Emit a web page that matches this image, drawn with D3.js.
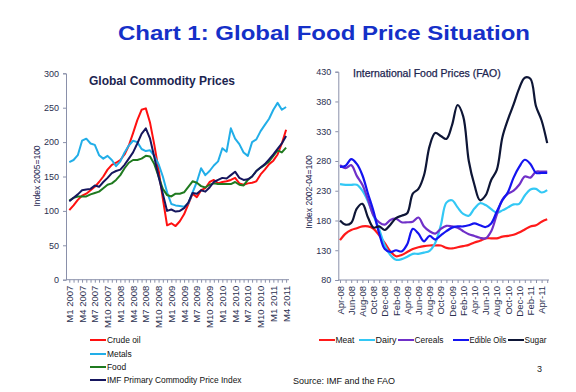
<!DOCTYPE html>
<html><head><meta charset="utf-8">
<script src="https://cdn.jsdelivr.net/npm/d3@7"></script>
<style>body{margin:0;background:#fff}svg{display:block;font-family:"Liberation Sans",Arial,sans-serif}</style>
</head><body><svg id="c" width="576" height="392"></svg>
<script>
// ---- Left chart data (monthly, M1 2007 .. M4 2011) ----
const leftTickLabels = ["M1 2007","M4 2007","M7 2007","M10 2007","M1 2008","M4 2008","M7 2008","M10 2008","M1 2009","M4 2009","M7 2009","M10 2009","M1 2010","M4 2010","M7 2010","M10 2010","M1 2011","M4 2011"];
const crudeOil = [101,108,116,122,125,130,135,142,150,160,167,170,174,182,195,213,232,247,249,228,196,160,118,79,82,78,85,95,110,125,120,130,133,142,145,140,142,143,145,148,140,138,140,141,143,153,160,168,173,182,198,218];
const metals = [171,174,181,202,205,198,196,181,176,180,174,165,172,185,195,202,200,190,187,188,180,168,150,127,110,108,107,106,111,127,142,162,152,158,166,172,191,186,220,205,197,185,180,200,204,216,225,234,247,257,247,251];
const food = [115,119,121,121,121,124,126,128,133,138,140,145,152,162,170,174,174,176,180,179,168,150,132,123,121,125,125,127,135,143,141,136,134,138,140,139,139,139,139,142,138,137,145,150,158,163,167,172,180,188,185,192];
const imfIndex = [114,119,124,130,131,132,137,135,142,148,155,158,160,167,176,185,198,212,220,205,178,150,125,100,102,99,100,104,112,126,125,130,128,134,142,145,148,147,152,157,148,145,146,150,158,163,168,175,182,190,198,209];
const leftSeriesNames = ["Crude oil","Metals","Food","IMF Primary Commodity Price Index"];
const leftYTicks = [0,50,100,150,200,250,300];

// ---- Right chart data (monthly, Apr-08 .. May-11) ----
const rightTickLabels = ["Apr-08","Jun-08","Aug-08","Oct-08","Dec-08","Feb-09","Apr-09","Jun-09","Aug-09","Oct-09","Dec-09","Feb-10","Apr-10","Jun-10","Aug-10","Oct-10","Dec-10","Feb-11","Apr-11"];
const meat = [147,158,164,167,170,170,166,155,142,128,120,122,127,132,135,137,138,138,138,134,133,135,137,139,143,146,150,150,150,153,154,156,160,165,170,172,178,182];
const dairy = [241,240,240,240,230,212,188,165,138,122,114,115,119,124,124,126,129,142,172,210,214,202,191,188,200,209,206,199,193,197,202,207,208,222,232,233,227,231];
const cereals = [273,268,273,255,240,215,188,177,173,181,183,177,177,178,185,170,162,158,166,171,170,168,162,157,154,151,150,162,190,215,225,230,240,254,252,262,262,262];
const edibleOils = [270,272,283,275,256,225,195,158,132,127,130,128,140,166,158,145,154,148,155,162,168,170,170,172,175,172,169,175,195,214,228,252,270,282,275,260,260,260];
const sugar = [180,173,176,200,208,185,168,170,164,173,184,188,192,225,233,256,305,327,322,317,340,374,355,280,240,214,222,248,265,320,350,375,402,420,418,372,348,310];
const rightSeriesNames = ["Meat","Dairy","Cereals","Edible Oils","Sugar"];
const rightYTicks = [80,130,180,230,280,330,380,430];

const svg = d3.select("#c");
const axisCol = "#8a90aa", textCol = "#2b3050", navy = "#1c2550";

svg.append("text").attr("x",118).attr("y",40).attr("font-size",21).attr("font-weight","bold")
  .attr("fill","#1530c8").attr("textLength",412).attr("lengthAdjust","spacingAndGlyphs")
  .text("Chart 1: Global Food Price Situation");

// ---------- LEFT ----------
const xL = d3.scaleLinear().domain([0,51]).range([69.3,286.1]);
const yL = d3.scaleLinear().domain([0,300]).range([279.7,73.3]);
const gL = svg.append("g");
const yAxL = gL.append("g").attr("transform","translate(66,0)")
  .call(d3.axisLeft(yL).tickValues(leftYTicks).tickSize(3).tickPadding(4));
yAxL.select(".domain").attr("stroke",axisCol);
yAxL.selectAll(".tick line").attr("stroke",axisCol);
yAxL.selectAll("text").attr("font-size",9).attr("fill",textCol).attr("font-family","Liberation Sans, Arial");
const xAxL = gL.append("g").attr("transform","translate(0,279.7)");
xAxL.append("line").attr("x1",66).attr("x2",289).attr("stroke",axisCol);
xAxL.append("g").call(d3.axisBottom(xL).tickValues(d3.range(52)).tickSize(3).tickFormat(""))
  .call(a=>{a.select(".domain").remove();a.selectAll("line").attr("stroke",axisCol);});
const lblL = xAxL.append("g").call(d3.axisBottom(xL).tickValues(d3.range(0,52,3)).tickSize(0)
  .tickFormat((d,i)=>leftTickLabels[i]));
lblL.select(".domain").remove();
lblL.selectAll("text").attr("transform","rotate(-90)").attr("text-anchor","end")
  .attr("x",-6).attr("y",0).attr("dy","0.33em").attr("font-size",9.5).attr("fill",textCol).attr("font-family","Liberation Sans, Arial");
gL.append("text").attr("transform","translate(40,176) rotate(-90)").attr("text-anchor","middle")
  .attr("font-size",8.5).attr("fill",navy).text("Index 2005=100");
gL.append("text").attr("x",89).attr("y",85).attr("font-size",12).attr("font-weight","bold")
  .attr("fill",navy).text("Global Commodity Prices");
const leftData = [crudeOil,metals,food,imfIndex];
const leftCols = ["#ff1010","#22aee8","#1f7a1f","#16165e"];
const lineL = d3.line().x((d,i)=>xL(i)).y(d=>yL(d));
leftData.forEach((s,k)=>gL.append("path").datum(s).attr("d",lineL).attr("fill","none")
  .attr("stroke",leftCols[k]).attr("stroke-width",2).attr("stroke-linejoin","round"));
const legY = [340,354,367,380];
leftSeriesNames.forEach((n,k)=>{
  gL.append("line").attr("x1",90).attr("x2",106).attr("y1",legY[k]).attr("y2",legY[k])
    .attr("stroke",leftCols[k]).attr("stroke-width",2);
  gL.append("text").attr("x",107).attr("y",legY[k]).attr("dy","0.35em").attr("font-size",8.4)
    .attr("fill","#111").text(n);
});

// ---------- RIGHT ----------
const xR = d3.scaleLinear().domain([0,37]).range([340,547.2]);
const yR = d3.scaleLinear().domain([80,430]).range([280,71.7]);
const gR = svg.append("g");
const yAxR = gR.append("g").attr("transform","translate(338.3,0)")
  .call(d3.axisLeft(yR).tickValues(rightYTicks).tickSize(3).tickPadding(4));
yAxR.select(".domain").attr("stroke",axisCol);
yAxR.selectAll(".tick line").attr("stroke",axisCol);
yAxR.selectAll("text").attr("font-size",9).attr("fill",textCol).attr("font-family","Liberation Sans, Arial");
const xAxR = gR.append("g").attr("transform","translate(0,280)");
xAxR.append("line").attr("x1",338.3).attr("x2",549).attr("stroke",axisCol);
xAxR.append("g").call(d3.axisBottom(xR).tickValues(d3.range(38)).tickSize(3).tickFormat(""))
  .call(a=>{a.select(".domain").remove();a.selectAll("line").attr("stroke",axisCol);});
const lblR = xAxR.append("g").call(d3.axisBottom(xR).tickValues(d3.range(0,37,2)).tickSize(0)
  .tickFormat((d,i)=>rightTickLabels[i]));
lblR.select(".domain").remove();
lblR.selectAll("text").attr("transform","rotate(-90)").attr("text-anchor","end")
  .attr("x",-6).attr("y",0).attr("dy","0.33em").attr("font-size",9.5).attr("fill",textCol).attr("font-family","Liberation Sans, Arial");
gR.append("text").attr("transform","translate(312,192) rotate(-90)").attr("text-anchor","middle")
  .attr("font-size",8.5).attr("fill",navy).text("Index 2002-04=100");
gR.append("text").attr("x",353).attr("y",77).attr("font-size",10.5)
  .attr("fill",navy).attr("stroke",navy).attr("stroke-width",0.25).text("International Food Prices (FAO)");
const rightData = [meat,dairy,cereals,edibleOils,sugar];
const rightCols = ["#ff1a1a","#33c8f5","#7030c8","#1414f0","#0e1636"];
const lineR = d3.line().x((d,i)=>xR(i)).y(d=>yR(d)).curve(d3.curveCatmullRom.alpha(0.5));
rightData.forEach((s,k)=>gR.append("path").datum(s).attr("d",lineR).attr("fill","none")
  .attr("stroke",rightCols[k]).attr("stroke-width",2.2).attr("stroke-linejoin","round"));
const legX = [319,359,398,453,508];
const legW = [19,21,29,37,22];
rightSeriesNames.forEach((n,k)=>{
  gR.append("line").attr("x1",legX[k]).attr("x2",legX[k]+16).attr("y1",340).attr("y2",340)
    .attr("stroke",rightCols[k]).attr("stroke-width",2);
  gR.append("text").attr("x",legX[k]+16.5).attr("y",340).attr("dy","0.35em").attr("font-size",8.5)
    .attr("textLength",legW[k]).attr("lengthAdjust","spacingAndGlyphs")
    .attr("fill","#111").text(n);
});
svg.append("text").attr("x",537).attr("y",372).attr("font-size",9).attr("fill","#222").text("3");
svg.append("text").attr("x",293).attr("y",384).attr("font-size",9).attr("fill","#111").text("Source: IMF and the FAO");
</script></body></html>
